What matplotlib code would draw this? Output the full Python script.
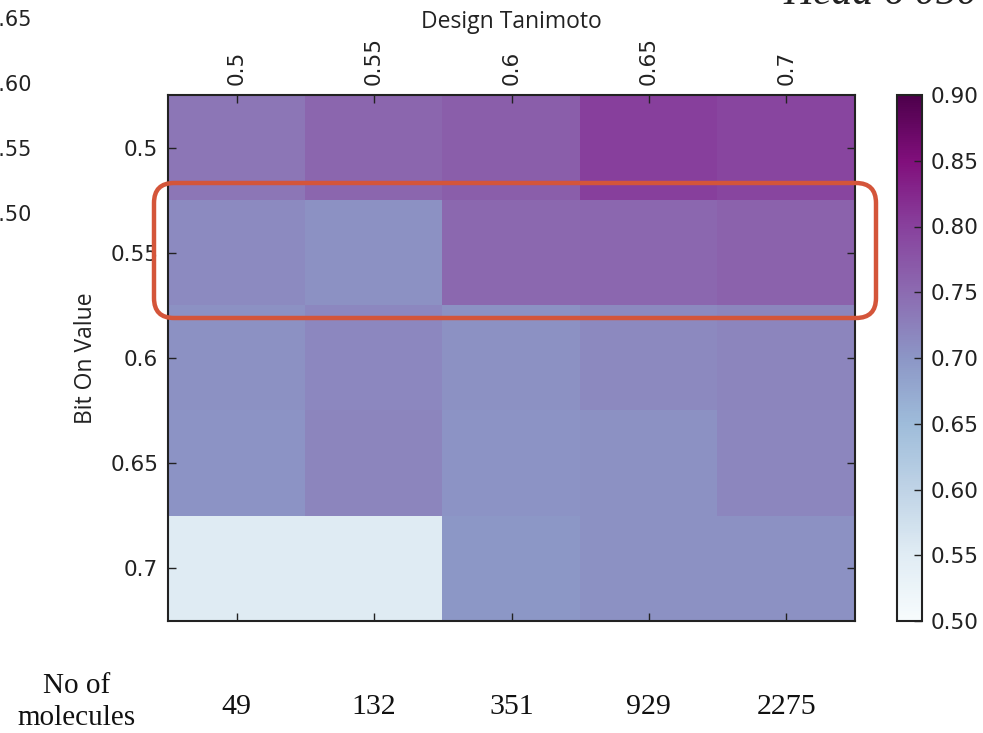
import numpy as np
import matplotlib
matplotlib.use('Agg')
import matplotlib.pyplot as plt
from matplotlib.patches import FancyBboxPatch

# Design Tanimoto (columns) / Bit On Value (rows)
design_tanimoto = [0.5, 0.55, 0.6, 0.65, 0.7]
bit_on_value = [0.5, 0.55, 0.6, 0.65, 0.7]
row_050 = [0.736, 0.755, 0.765, 0.800, 0.795]
row_055 = [0.713, 0.705, 0.752, 0.754, 0.760]
row_060 = [0.705, 0.716, 0.705, 0.715, 0.720]
row_065 = [0.702, 0.720, 0.702, 0.705, 0.718]
row_070 = [0.550, 0.550, 0.698, 0.705, 0.705]
n_molecules = [49, 132, 351, 929, 2275]
cbar_ticks = [0.50, 0.55, 0.60, 0.65, 0.70, 0.75, 0.80, 0.85, 0.90]
left_cut_labels = ['0.65', '0.60', '0.55', '0.50']

Z = np.array([row_050, row_055, row_060, row_065, row_070])

W, H = 983, 733
fig = plt.figure(figsize=(W/100, H/100), dpi=100)

def fx(px): return px/W
def fy(py): return 1 - py/H

TICK_FS = 15.5
LAB_FS = 16.5

ax = fig.add_axes([fx(168), fy(621), fx(855)-fx(168), fy(95)-fy(621)])
im = ax.imshow(Z, cmap='BuPu', vmin=0.5, vmax=0.9, aspect='auto',
               interpolation='nearest')
ax.set_xticks(range(len(design_tanimoto)))
ax.set_xticklabels([str(v) for v in design_tanimoto], rotation=90,
                   fontsize=TICK_FS, family='DejaVu Sans')
ax.set_yticks(range(len(bit_on_value)))
ax.set_yticklabels([str(v) for v in bit_on_value], fontsize=TICK_FS,
                   family='DejaVu Sans')
ax.xaxis.tick_top()
ax.xaxis.set_label_position('top')
ax.tick_params(direction='in', length=6, width=1, top=True, bottom=True,
               left=True, right=True, labeltop=True, labelbottom=False,
               colors='#222222', pad=7)
ax.set_xlabel('Design Tanimoto', family='Open Sans', fontsize=LAB_FS,
              labelpad=7, color='#222222')
ax.set_ylabel('Bit On Value', family='Open Sans', fontsize=LAB_FS,
              labelpad=9, color='#222222')
for s in ax.spines.values():
    s.set_linewidth(1.5)
    s.set_color('#222222')

cax = fig.add_axes([fx(897), fy(621), fx(922)-fx(897), fy(95)-fy(621)])
cb = fig.colorbar(im, cax=cax, ticks=cbar_ticks, format='%.2f')
cb.ax.tick_params(direction='in', length=6, width=1, labelsize=TICK_FS,
                  colors='#222222', pad=6)
for t in cb.ax.get_yticklabels():
    t.set_family('DejaVu Sans')
cb.outline.set_linewidth(1.5)
cb.outline.set_edgecolor('#222222')

# overlay in pixel coordinates for annotations
ov = fig.add_axes([0, 0, 1, 1], facecolor='none')
ov.set_xlim(0, W)
ov.set_ylim(H, 0)
ov.axis('off')

box = FancyBboxPatch((154, 183), 722, 135,
                     boxstyle='round,pad=0,rounding_size=20',
                     fill=False, edgecolor='#d4553a', linewidth=3.2)
ov.add_patch(box)

# labels of a neighbouring panel, cut by the left edge
for lab, y in zip(left_cut_labels, [20, 85, 150, 215]):
    ov.text(32, y, lab, ha='right', va='center', fontsize=15,
            family='DejaVu Sans', color='#222222')

ov.text(783, 4, 'Head 6 050', ha='left', va='baseline', fontsize=30,
        family='Liberation Serif', style='italic', color='#222222')

ov.text(77, 702, 'No of\nmolecules', ha='center', va='center',
        fontsize=21, family='Liberation Serif', linespacing=1.3,
        color='#111111')
for i, n in enumerate(n_molecules):
    xc = 168 + (855 - 168) * (i + 0.5) / len(n_molecules)
    ov.text(xc, 707, str(n), ha='center', va='center', fontsize=21.5,
            family='Liberation Serif', color='#111111')

fig.savefig('out.png', dpi=100)
